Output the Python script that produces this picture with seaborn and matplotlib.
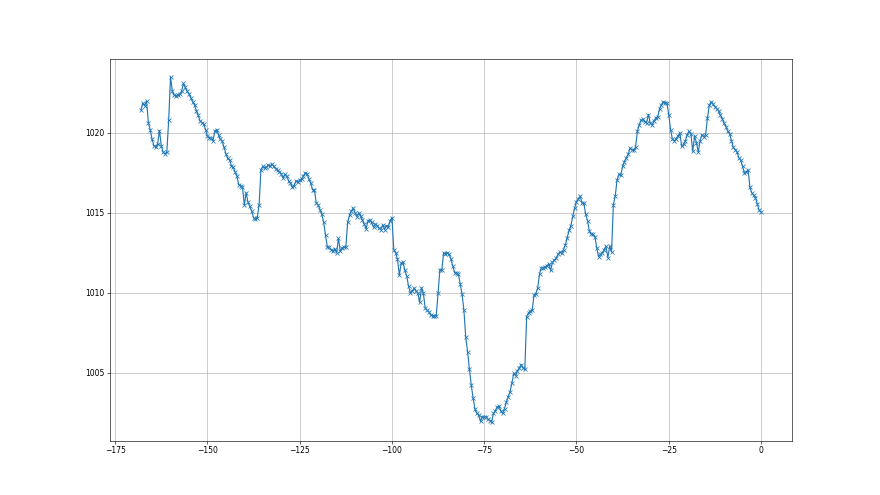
import numpy as np
import pandas as pd
import matplotlib
matplotlib.use("Agg")
import matplotlib.pyplot as plt
import seaborn as sns

# Pressure readings (hPa), half-hourly, from -168 h to 0 h
pressure = [
    1021.45, 1021.85, 1021.7, 1022.0, 1020.65, 1020.2, 1019.6, 1019.2, 1019.1, 1019.3,
    1020.15, 1019.2, 1018.8, 1018.7, 1018.8, 1020.8, 1023.5, 1022.6, 1022.35, 1022.3,
    1022.4, 1022.45, 1022.6, 1023.1, 1022.85, 1022.6, 1022.45, 1022.2, 1021.95, 1021.75,
    1021.4, 1021.1, 1020.75, 1020.65, 1020.55, 1020.2, 1019.8, 1019.7, 1019.7, 1019.5,
    1020.1, 1020.2, 1019.9, 1019.6, 1019.5, 1019.1, 1018.7, 1018.4, 1018.3, 1017.95,
    1017.85, 1017.55, 1017.3, 1016.75, 1016.7, 1016.6, 1015.5, 1016.25, 1015.65, 1015.4,
    1015.1, 1014.7, 1014.6, 1014.7, 1015.5, 1017.7, 1017.9, 1017.8, 1017.85, 1018.0,
    1017.9, 1018.05, 1017.9, 1017.75, 1017.65, 1017.55, 1017.45, 1017.2, 1017.4, 1017.3,
    1017.0, 1016.85, 1016.6, 1016.7, 1017.0, 1016.9, 1017.05, 1017.1, 1017.3, 1017.5,
    1017.45, 1017.1, 1016.85, 1016.45, 1016.4, 1015.6, 1015.5, 1015.2, 1014.9, 1014.4,
    1013.6, 1012.85, 1012.85, 1012.7, 1012.6, 1012.75, 1012.5, 1013.4, 1012.6, 1012.8,
    1012.85, 1012.85, 1014.4, 1014.85, 1015.1, 1015.3, 1015.0, 1014.75, 1015.0, 1014.8,
    1014.55, 1014.3, 1014.0, 1014.5, 1014.55, 1014.4, 1014.1, 1014.3, 1014.2, 1014.05,
    1013.95, 1014.25, 1013.95, 1014.2, 1014.1, 1014.5, 1014.7, 1012.7, 1012.5, 1012.1,
    1011.1, 1011.85, 1011.9, 1011.4, 1011.05, 1010.4, 1010.0, 1010.1, 1010.3, 1010.1,
    1010.0, 1009.4, 1010.3, 1010.0, 1009.05, 1008.9, 1008.8, 1008.6, 1008.55, 1008.55,
    1008.55, 1010.0, 1011.45, 1011.4, 1012.5, 1012.45, 1012.5, 1012.4, 1012.1, 1011.65,
    1011.25, 1011.25, 1011.15, 1010.55, 1009.9, 1008.9, 1007.2, 1006.3, 1005.2, 1004.2,
    1003.4, 1002.7, 1002.45, 1002.35, 1001.95, 1002.25, 1002.2, 1002.25, 1002.1, 1002.0,
    1001.9, 1002.45, 1002.6, 1002.85, 1002.9, 1002.6, 1002.45, 1002.75, 1003.15, 1003.5,
    1003.8, 1004.35, 1004.95, 1004.8, 1005.1, 1005.3, 1005.5, 1005.3, 1005.2, 1008.5,
    1008.75, 1008.85, 1008.9, 1009.85, 1009.95, 1010.3, 1011.2, 1011.55, 1011.55, 1011.6,
    1011.7, 1011.8, 1011.4, 1011.9, 1012.05, 1012.15, 1012.4, 1012.55, 1012.5, 1012.7,
    1013.0, 1013.45, 1013.9, 1014.2, 1014.8, 1015.3, 1015.7, 1015.85, 1016.05, 1015.6,
    1015.6, 1014.9, 1014.5, 1013.85, 1013.65, 1013.65, 1013.5, 1012.8, 1012.25, 1012.4,
    1012.5, 1012.7, 1012.9, 1012.2, 1012.9, 1012.55, 1015.5, 1016.05, 1017.05, 1017.4,
    1017.35, 1017.9, 1018.2, 1018.45, 1018.65, 1019.05, 1018.95, 1018.9, 1019.1, 1020.1,
    1020.5, 1020.8, 1020.85, 1020.7, 1020.65, 1021.15, 1020.6, 1020.5, 1020.75, 1020.95,
    1021.0, 1021.5, 1021.75, 1021.95, 1021.9, 1021.9, 1021.15, 1020.2, 1019.6, 1019.5,
    1019.65, 1019.8, 1020.0, 1019.15, 1019.3, 1019.5, 1019.9, 1020.1, 1019.95, 1018.85,
    1019.8, 1019.4, 1018.8, 1019.5, 1019.9, 1019.75, 1019.9, 1020.95, 1021.75, 1021.95,
    1021.8, 1021.65, 1021.5, 1021.4, 1021.1, 1020.9, 1020.6, 1020.4, 1020.1, 1019.95,
    1019.5, 1019.1, 1018.95, 1018.8, 1018.45, 1018.3, 1017.9, 1017.5, 1017.55, 1017.7,
    1016.6, 1016.25, 1016.1, 1015.95, 1015.55, 1015.15, 1015.05,
]

step_hours = 0.5
n = len(pressure)
hours = np.arange(n) * step_hours - step_hours * (n - 1)

df = pd.DataFrame({"hours": hours, "pressure": pressure})

fig, ax = plt.subplots(figsize=(16, 9), dpi=55)
fig.patch.set_facecolor("white")

sns.lineplot(
    data=df, x="hours", y="pressure", ax=ax,
    estimator=None, sort=False,
    color="#1f77b4", linewidth=1.5,
    marker="x", markersize=6,
    markeredgecolor="#1f77b4", markeredgewidth=1.0,
)

ax.grid(True, color="#b0b0b0", linewidth=0.8)
ax.set_axisbelow(True)
ax.set_xlabel("")
ax.set_ylabel("")
ax.ticklabel_format(axis="y", useOffset=False, style="plain")
ax.set_xticks([-175, -150, -125, -100, -75, -50, -25, 0])
ax.set_yticks([1005, 1010, 1015, 1020])
ax.set_xlim(-176.4, 8.4)
ax.set_ylim(1000.75, 1024.6)

fig.savefig("out.png", dpi=55)
